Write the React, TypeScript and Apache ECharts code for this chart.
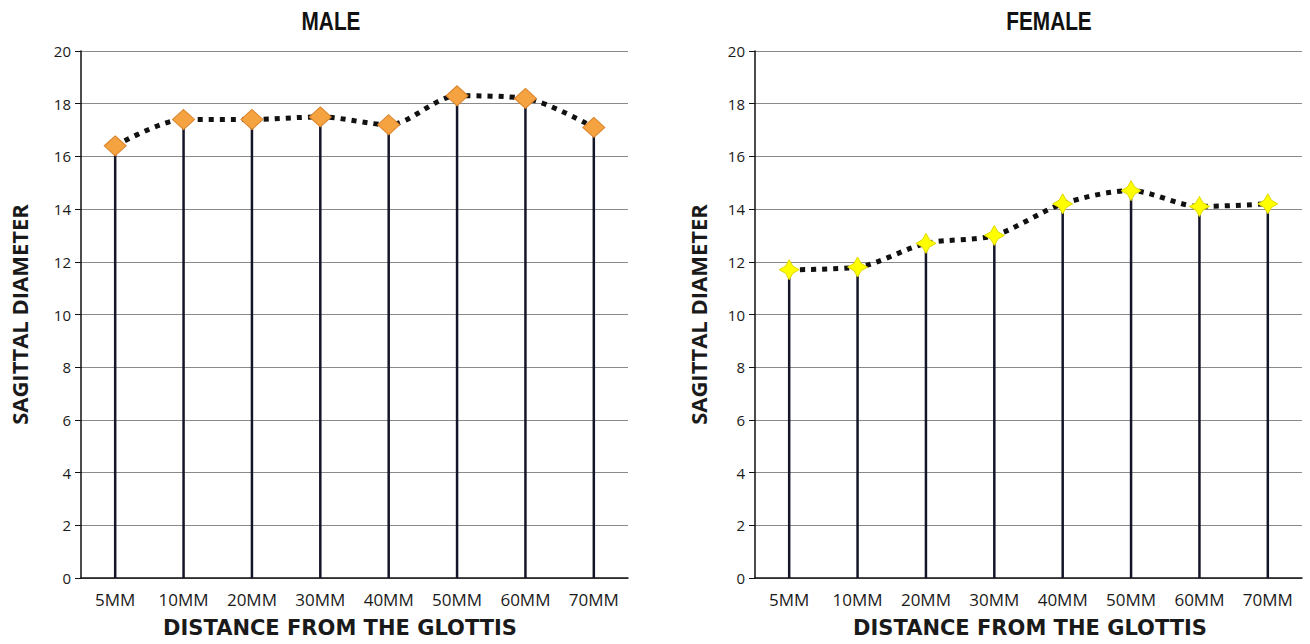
import React, { useEffect, useRef } from "react";
import * as echarts from "echarts";

const categories = ["5MM", "10MM", "20MM", "30MM", "40MM", "50MM", "60MM", "70MM"];
const maleValues = [16.4, 17.4, 17.4, 17.5, 17.2, 18.3, 18.2, 17.1];
const femaleValues = [11.7, 11.8, 12.7, 13.0, 14.2, 14.7, 14.1, 14.2];
const yTicks = { min: 0, max: 20, interval: 2 };
const titles = ["MALE", "FEMALE"];
const xAxisTitle = "DISTANCE FROM THE GLOTTIS";
const yAxisTitle = "SAGITTAL DIAMETER";

const labelFont = "'Open Sans', 'Noto Sans', sans-serif";
const titleFont = "'Liberation Sans', Arial, sans-serif";

export default function App() {
  const ref = useRef<HTMLDivElement>(null);
  useEffect(() => {
    if (!ref.current) return;
    const chart = echarts.init(ref.current, null, { renderer: "svg" });
    const grids = [
      { left: 81, top: 51, width: 547, height: 527 },
      { left: 755, top: 51, width: 547, height: 527 },
    ];
    const mkX = (i: number) => ({
      type: "category",
      gridIndex: i,
      data: categories,
      boundaryGap: true,
      axisLine: { lineStyle: { color: "#111", width: 1.5 } },
      axisTick: { show: false },
      axisLabel: { color: "#1a1a1a", fontSize: 17, fontFamily: labelFont, margin: 13 },
    });
    const mkY = (i: number, gap: number) => ({
      type: "value",
      gridIndex: i,
      min: yTicks.min,
      max: yTicks.max,
      interval: yTicks.interval,
      axisLine: { show: true, lineStyle: { color: "#111", width: 1.5 } },
      axisTick: { show: true, length: 6, lineStyle: { color: "#111" } },
      axisLabel: { color: "#1a1a1a", fontSize: 15, fontFamily: labelFont, margin: 10 },
      splitLine: { lineStyle: { color: "#8a8a8a", width: 1.2 } },
      name: yAxisTitle,
      nameLocation: "middle",
      nameRotate: 90,
      nameGap: gap,
      nameTextStyle: { color: "#1a1a1a", fontSize: 22, fontWeight: "bold", fontFamily: labelFont },
    });
    const star = "path://M0,-10 L3.6,-3.6 L10,0 L3.6,3.6 L0,10 L-3.6,3.6 L-10,0 L-3.6,-3.6 Z";
    const mkSeries = (i: number, data: number[], symbol: string, color: string, border: string, size: number[]) => [
      {
        type: "bar",
        xAxisIndex: i,
        yAxisIndex: i,
        data,
        barWidth: 2.5,
        itemStyle: { color: "#15152a" },
        silent: true,
      },
      {
        type: "line",
        xAxisIndex: i,
        yAxisIndex: i,
        data,
        smooth: 0.3,
        symbol,
        symbolSize: size,
        lineStyle: { color: "#111", width: 5, type: [5, 6], cap: "butt" },
        itemStyle: { color, borderColor: border, borderWidth: 1 },
        z: 3,
      },
    ];
    const titleText = (text: string, x: number) => ({
      type: "text",
      x,
      y: 21,
      scaleX: 0.8,
      style: {
        text,
        fontSize: 26,
        fontWeight: "bold",
        fontFamily: titleFont,
        fill: "#111",
        align: "center",
        verticalAlign: "middle",
      },
    });
    const xTitle = (x: number) => ({
      type: "text",
      x,
      y: 628,
      style: {
        text: xAxisTitle,
        fontSize: 21,
        lineHeight: 24,
        fontWeight: "bold",
        fontFamily: "'DejaVu Sans', sans-serif",
        fill: "#1a1a1a",
        align: "center",
        verticalAlign: "middle",
      },
    });
    chart.setOption({
      animation: false,
      backgroundColor: "#fff",
      graphic: [titleText(titles[0], 331), titleText(titles[1], 1049), xTitle(340), xTitle(1030)],
      grid: grids,
      xAxis: [mkX(0), mkX(1)],
      yAxis: [mkY(0, 51), mkY(1, 46)],
      series: [
        ...mkSeries(0, maleValues, "diamond", "#F4A340", "#D9822B", [22, 20]),
        ...mkSeries(1, femaleValues, star, "#FFFF00", "#E0D800", [20, 20]),
      ],
    });
    return () => chart.dispose();
  }, []);
  return (
    <div
      ref={ref}
      style={{ position: "fixed", left: 0, top: 0, width: 1310, height: 644, background: "#fff" }}
    />
  );
}
